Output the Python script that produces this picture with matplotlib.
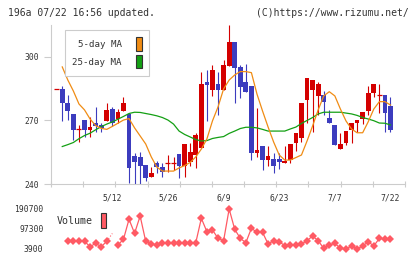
import numpy as np
import matplotlib
matplotlib.use("Agg")
from matplotlib import pyplot as plt
from matplotlib.patches import Patch

nan = np.nan

# daily prices 196A, 61 trading days up to 7/22
opens = [284.7, 284.7, 278.1, 273.1, 265.8, 270.2, 265.7, 268.7, 267.9, 269.8,
         275.6, 270.6, 274.6, 273.1, 253.2, 252.9, 248.8, 243.5, 249.8, 247.9,
         249.8, 249.8, 254.0, 248.5, 250.5, 253.7, 257.0, 288.2, 284.4, 287.2,
         284.4, 295.7, 307.2, 295.4, 288.3, 286.3, 254.8, 258.0, 251.3, 251.7,
         251.7, 249.8, 251.3, 259.5, 261.9, 279.7, 284.4, 281.6, 282.0, 271.0,
         267.9, 256.5, 259.5, 265.5, 268.7, 270.7, 274.6, 282.8, 282.0, 282.0, 276.8]
highs = [284.7, 286.3, 282.0, 273.1, 267.9, 270.2, 271.8, 276.5, 269.0, 278.1,
         276.5, 275.6, 281.3, 273.1, 254.8, 255.3, 248.8, 248.2, 250.9, 249.8,
         253.7, 252.6, 254.0, 258.9, 259.2, 263.9, 293.0, 293.9, 296.2, 293.0,
         298.4, 315.1, 307.2, 296.2, 296.7, 286.3, 275.8, 258.0, 258.0, 254.8,
         254.8, 258.0, 258.9, 264.2, 278.4, 289.9, 289.1, 288.3, 284.1, 275.0,
         267.9, 263.9, 265.0, 268.7, 270.2, 273.9, 286.3, 287.2, 287.2, 282.0, 281.0]
lows = [284.7, 269.8, 270.2, 260.8, 259.7, 262.0, 262.0, 264.7, 264.4, 269.8,
        267.5, 268.7, 274.6, 240.3, 239.5, 239.5, 241.3, 243.5, 245.0, 243.5,
        245.8, 246.6, 242.7, 243.5, 248.5, 247.7, 257.0, 269.8, 281.6, 272.6,
        284.4, 295.7, 278.1, 280.5, 283.6, 251.3, 252.9, 246.8, 248.5, 245.0,
        246.9, 249.8, 249.8, 255.7, 260.0, 268.7, 264.7, 272.6, 272.6, 268.7,
        258.4, 256.5, 258.4, 259.5, 264.7, 268.3, 272.6, 281.0, 273.7, 264.7, 264.7]
closes = [284.7, 278.1, 274.6, 265.7, 265.8, 265.7, 266.8, 267.5, 266.5, 275.0,
          268.7, 274.0, 278.4, 247.7, 250.5, 248.5, 242.7, 245.0, 247.9, 245.8,
          249.8, 249.8, 248.5, 258.9, 255.1, 263.1, 287.4, 286.9, 293.9, 284.4,
          296.2, 307.2, 294.9, 286.0, 283.6, 254.8, 256.0, 251.3, 253.2, 248.5,
          250.5, 250.9, 258.9, 264.2, 278.4, 289.9, 289.1, 287.2, 278.9, 268.7,
          258.4, 258.9, 265.0, 268.7, 270.2, 273.9, 282.8, 287.2, 282.0, 273.7, 265.5]

ma5 = [nan, 295.3, 289.1, 283.9, 277.8, 275.0, 270.7, 267.6, 266.3, 265.8,
       267.2, 268.7, 270.2, 270.9, 266.5, 262.7, 258.9, 252.8, 248.0, 246.1,
       246.1, 246.1, 247.6, 248.7, 250.2, 252.8, 256.5, 261.3, 269.8, 276.4,
       284.9, 289.1, 291.5, 293.1, 293.1, 292.6, 282.5, 274.5, 266.9, 259.8,
       253.7, 251.3, 251.3, 252.5, 253.7, 260.3, 267.4, 275.0, 281.6, 283.6,
       281.6, 275.4, 269.8, 266.0, 264.2, 264.2, 269.4, 275.4, 278.9, 278.9, 277.3]
ma25 = [nan, 257.7, 258.6, 259.6, 261.4, 262.9, 264.0, 265.6, 267.1, 268.3,
        269.3, 270.6, 271.9, 273.3, 273.9, 273.8, 273.3, 272.8, 272.2, 271.4,
        270.2, 268.3, 265.0, 263.4, 262.2, 261.0, 260.3, 260.5, 261.5, 262.0,
        262.4, 263.9, 265.0, 266.2, 266.8, 266.8, 266.5, 265.8, 265.0, 265.0,
        265.0, 265.0, 266.0, 266.9, 268.6, 270.0, 271.4, 273.1, 273.9, 273.9,
        273.9, 273.9, 273.5, 273.1, 272.4, 271.4, 270.7, 269.9, 268.8, 268.7, 267.9]

volume = [nan, nan, 42700, 39900, 39900, 39900, 14600, 30500, 14600, 39900,
          76300, 22600, 49200, 142600, 77200, 158000, 39900, 27300, 22600, 33300,
          33300, 33300, 33300, 33300, 33300, 33300, 147300, 84700, 92600, 53900,
          42700, 190700, 95900, 53900, 33300, 100600, 81900, 81900, 27300, 42700,
          38000, 19300, 22600, 22600, 27300, 42700, 64600, 42700, 7000, 22600,
          30500, 7000, 3900, 17900, 3900, 17900, 38000, 17900, 53900, 50600, 50600]
gap_day = 10  # volume drawn only as a dotted stub

date_pos = [10, 20, 30, 40, 50, 60]
date_labels = ['5/12', '5/26', '6/9', '6/23', '7/7', '7/22']
price_ticks = [240, 270, 300]
vol_ticks = [3900, 97300, 190700]

up_col = '#d40000'
down_col = '#3c3cbe'
c_ma5 = '#f08c14'
c_ma25 = '#14a014'
c_vol = '#ff5a64'
grid_col = '#cccccc'
txt_col = '#333333'
mono = 'DejaVu Sans Mono'

W, H = 420, 259
fig = plt.figure(figsize=(W / 100, H / 100), dpi=100)


def px_axes(left, top, right, bottom):
    return fig.add_axes([left / W, 1 - bottom / H, (right - left) / W, (bottom - top) / H])


x = np.arange(len(closes))
step = 5.563
xlim = ((51 - 56.7) / step, (405 - 56.7) / step)

ax = px_axes(51, 25, 405, 184)
o = np.array(opens)
c = np.array(closes)
cols = np.where(c >= o, up_col, down_col)

ax.vlines(x, lows, highs, colors=cols, lw=0.8)
body = c != o
ax.bar(x[body], (c - o)[body], bottom=o[body], width=0.85, color=cols[body], lw=0)
ax.hlines(o[~body], x[~body] - 0.45, x[~body] + 0.45, colors=cols[~body], lw=0.9)

ax.plot(x, ma25, color=c_ma25, lw=0.9)
ax.plot(x, ma5, color=c_ma5, lw=0.9)

ax.set_xlim(*xlim)
ax.set_ylim(240, 315.1)
for s in ['top', 'right']:
    ax.spines[s].set_visible(False)
for s in ['left', 'bottom']:
    ax.spines[s].set_color(grid_col)
    ax.spines[s].set_linewidth(0.8)

ax.set_xticks(np.linspace(xlim[0], xlim[1], 12))
ax.tick_params(axis='x', which='major', direction='inout', length=5, color=grid_col,
               width=0.8, labelbottom=False)
ax.set_xticks(date_pos, date_labels, minor=True)
ax.tick_params(axis='x', which='minor', length=0, pad=7, labelsize=5.75, labelcolor=txt_col)
for t in ax.get_xticklabels(minor=True):
    t.set_family(mono)

ax.set_yticks(price_ticks)
ax.tick_params(axis='y', direction='out', length=5, color=grid_col, width=0.8, pad=3.6,
               labelsize=5.75, labelcolor=txt_col)
for t in ax.get_yticklabels():
    t.set_family(mono)

leg = ax.legend(handles=[Patch(facecolor=c_ma5, edgecolor='#333333', lw=0.8, label='5-day MA'),
                         Patch(facecolor=c_ma25, edgecolor='#333333', lw=0.8, label='25-day MA')],
                loc='upper left', bbox_to_anchor=(65 / W, 1 - 30 / H), bbox_transform=fig.transFigure,
                markerfirst=False, handlelength=0.65, handleheight=1.9, handletextpad=1.5,
                labelspacing=0.43, borderpad=0.8, borderaxespad=0, fancybox=False,
                edgecolor=grid_col, framealpha=1, prop={'family': mono, 'size': 6.6})
for t in leg.get_texts():
    t.set_color(txt_col)
leg.get_frame().set_linewidth(0.8)

# volume panel
ax2 = px_axes(51, 209, 405, 249)
v = np.array(volume, dtype=float)
v_main = v.copy()
v_main[gap_day] = nan
ax2.plot(x[gap_day - 1:gap_day + 1], v[gap_day - 1:gap_day + 1], ':', color=c_vol, lw=0.8,
         clip_on=False)
ax2.plot(x, v_main, '-D', color=c_vol, lw=0.9, markersize=4.2, markeredgewidth=0, clip_on=False)
ax2.set_xlim(*xlim)
ax2.set_ylim(3900, 190700)
for s in ax2.spines.values():
    s.set_visible(False)
ax2.set_xticks([])
ax2.set_yticks(vol_ticks, [str(t) for t in vol_ticks])
ax2.tick_params(axis='y', length=0, pad=5.4, labelsize=5.75, labelcolor=txt_col)
for t in ax2.get_yticklabels():
    t.set_family(mono)

leg2 = ax2.legend(handles=[Patch(facecolor=c_vol, edgecolor='#333333', lw=0.8, label='Volume')],
                  loc='upper left', bbox_to_anchor=(55 / W, 1 - 211 / H), bbox_transform=fig.transFigure,
                  markerfirst=False, handlelength=0.56, handleheight=1.9, handletextpad=0.77,
                  borderpad=0.2, borderaxespad=0, frameon=False, prop={'family': mono, 'size': 7.2})
for t in leg2.get_texts():
    t.set_color(txt_col)

fig.text(8 / W, 1 - 13.3 / H, '196a 07/22 16:56 updated.', family=mono, size=7.0,
         color=txt_col, va='center', ha='left')
fig.text(409 / W, 1 - 13.3 / H, '(C)https://www.rizumu.net/', family=mono, size=7.0,
         color=txt_col, va='center', ha='right')

fig.savefig('out.png', dpi=100)
